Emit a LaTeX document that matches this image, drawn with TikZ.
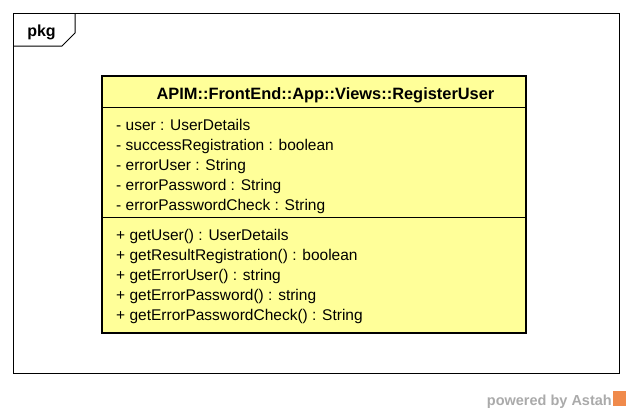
\documentclass[tikz,border=0pt]{standalone}
\usepackage{fontspec}
\setmainfont{Liberation Sans}
\definecolor{classfill}{HTML}{FFFF99}
\definecolor{astahgray}{HTML}{AAAAAA}
\definecolor{astahorange}{HTML}{F08A4B}

\begin{document}
\begin{tikzpicture}[x=1pt,y=-1pt,
    member/.style={anchor=base west,inner sep=0pt,font=\fontsize{15.5}{18}\selectfont}]
   \useasboundingbox (0,0) rectangle (632,413);
   % package frame
   \draw[line width=1pt] (13,13) rectangle (619,373);
   \draw[line width=1pt] (13,46) -- (62,46) -- (75,33) -- (75,13);
   \node at (41.5,36) [anchor=base,inner sep=0pt,font=\bfseries\fontsize{16}{18}\selectfont] (pkg) {pkg};
   % class box
   \draw[line width=2.7pt,fill=classfill] (102,76) rectangle (526,333);
   \draw[line width=1pt] (102,107) -- (526,107) (102,217) -- (526,217);
   \node at (325.5,99.5) [anchor=base,inner sep=0pt,font=\bfseries\fontsize{16.4}{18}\selectfont] (title) {APIM::FrontEnd::App::Views::RegisterUser};
   % attributes
   \node at (116,130) [member] (a1) {- user : UserDetails};
   \node at (116,150) [member] (a2) {- successRegistration : boolean};
   \node at (116,170) [member] (a3) {- errorUser : String};
   \node at (116,190) [member] (a4) {- errorPassword : String};
   \node at (116,210) [member] (a5) {- errorPasswordCheck : String};
   % operations
   \node at (116,240.5) [member] (m1) {+ getUser() : UserDetails};
   \node at (116,260.5) [member] (m2) {+ getResultRegistration() : boolean};
   \node at (116,280.5) [member] (m3) {+ getErrorUser() : string};
   \node at (116,300.5) [member] (m4) {+ getErrorPassword() : string};
   \node at (116,320.5) [member] (m5) {+ getErrorPasswordCheck() : String};
   % footer
   \node at (612,405) [anchor=base east,inner sep=0pt,text=astahgray,font=\bfseries\fontsize{14.5}{16}\selectfont] (powered) {powered by Astah};
   \node at (619.5,398) [fill=astahorange,minimum width=13,minimum height=15,inner sep=0pt] (logo) {};
\end{tikzpicture}
\end{document}
